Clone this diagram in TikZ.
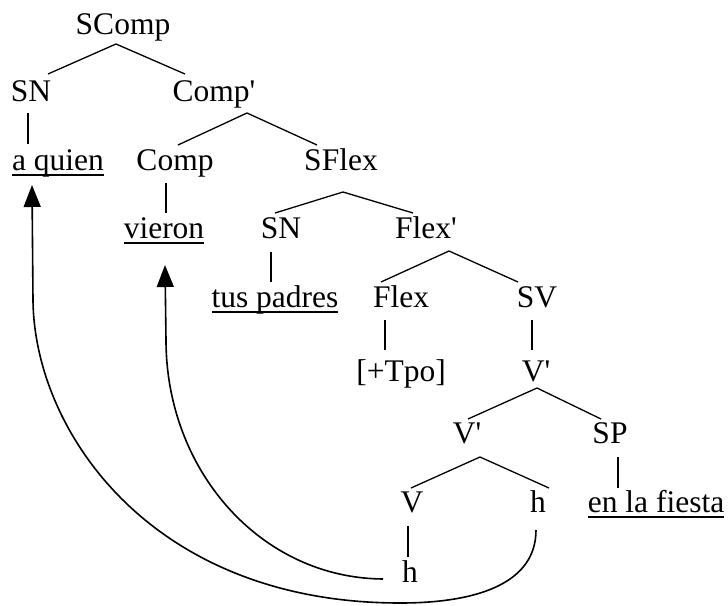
\documentclass[tikz,border=0pt]{standalone}
\usepackage{fontspec}
\setmainfont{Liberation Serif}
\usetikzlibrary{arrows.meta}
\newcommand{\undl}[1]{\setbox0\hbox{#1}\rlap{\vrule height -4pt depth 6pt width \wd0}\box0}
\begin{document}
\begin{tikzpicture}[x=1pt,y=-1pt,font=\fontsize{31.5}{38}\selectfont,
    lbl/.style={anchor=base, inner sep=0pt},
    branch/.style={line width=1.3pt},
    move/.style={line width=1.6pt, -{Triangle[length=22pt,width=17pt]}}]
  \useasboundingbox (0,0) rectangle (728,605);
  % nodes, placed at their base lines
  \node[lbl] (scomp) at (123,34) {SComp};
  \node[lbl] (sn1) at (31,101) {SN};
  \node[lbl] (compbar) at (214,101) {Comp\textquotesingle};
  \node[lbl] (aquien) at (58,170) {\undl{a quien}};
  \node[lbl] (comp) at (175,170) {Comp};
  \node[lbl] (sflex) at (341,170) {SFlex};
  \node[lbl] (vieron) at (164,238) {\undl{vieron}};
  \node[lbl] (sn2) at (281,238) {SN};
  \node[lbl] (flexbar) at (426,238) {Flex\textquotesingle};
  \node[lbl] (tuspadres) at (275,307) {\undl{tus padres}};
  \node[lbl] (flex) at (401,307) {Flex};
  \node[lbl] (sv) at (537,307) {SV};
  \node[lbl] (tpo) at (401,381) {[+Tpo]};
  \node[lbl] (vbar1) at (536,381) {V\textquotesingle};
  \node[lbl] (vbar2) at (467,443) {V\textquotesingle};
  \node[lbl] (sp) at (610,443) {SP};
  \node[lbl] (v) at (412,512) {V};
  \node[lbl] (h1) at (538,512) {h};
  \node[lbl] (fiesta) at (656,512) {\undl{en la fiesta}};
  \node[lbl] (h2) at (410,582) {h};
  % branches
  \draw[branch] ([shift={(17,-27)}]sn1.base) -- ([shift={(-7,10)}]scomp.base) -- ([shift={(-29,-27)}]compbar.base);
  \draw[branch] ([shift={(3,-25)}]comp.base) -- ([shift={(33,12)}]compbar.base) -- ([shift={(-24,-25)}]sflex.base);
  \draw[branch] ([shift={(-6,-25)}]sn2.base) -- ([shift={(2,22)}]sflex.base) -- ([shift={(-13,-25)}]flexbar.base);
  \draw[branch] ([shift={(-20,-25)}]flex.base) -- ([shift={(23,13)}]flexbar.base) -- ([shift={(-19,-25)}]sv.base);
  \draw[branch] ([shift={(1,-24)}]vbar2.base) -- ([shift={(1,7)}]vbar1.base) -- ([shift={(-9,-24)}]sp.base);
  \draw[branch] ([shift={(-1,-24)}]v.base) -- ([shift={(13,14)}]vbar2.base) -- ([shift={(11,-24)}]h1.base);
  % unary branches
  \draw[branch] ([shift={(-3,12)}]sn1.base) -- ([shift={(-30,-26)}]aquien.base);
  \draw[branch] ([shift={(-9,13)}]comp.base) -- ([shift={(2,-25)}]vieron.base);
  \draw[branch] ([shift={(-10,14)}]sn2.base) -- ([shift={(-4,-25)}]tuspadres.base);
  \draw[branch] ([shift={(-16,13)}]flex.base) -- ([shift={(-16,-31)}]tpo.base);
  \draw[branch] ([shift={(-5,13)}]sv.base) -- ([shift={(-4,-31)}]vbar1.base);
  \draw[branch] ([shift={(8,14)}]sp.base) -- ([shift={(-38,-24)}]fiesta.base);
  \draw[branch] ([shift={(-4,14)}]v.base) -- ([shift={(-2,-25)}]h2.base);
  % movement
  \draw[move] ([shift={(-2,18)}]h1.base) .. controls (536,582) and (480,603) .. (400,603)
    .. controls (150,603) and (34,430) .. (33,300) -- ([shift={(-26,15)}]aquien.base);
  \draw[move] ([shift={(-27,-3)}]h2.base) .. controls (260,578) and (166,470) .. (166,340)
    -- ([shift={(1,27)}]vieron.base);
\end{tikzpicture}
\end{document}
